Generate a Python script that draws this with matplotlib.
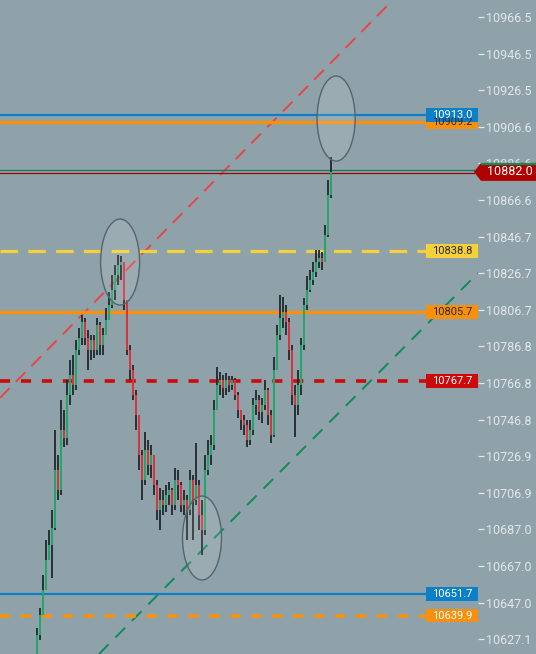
import matplotlib
matplotlib.use("Agg")
import matplotlib.pyplot as plt
from matplotlib.patches import Ellipse, Rectangle, Polygon
import matplotlib.transforms as mtransforms

plt.rcParams['font.family'] = ['Roboto', 'DejaVu Sans']

# ---------------- data ----------------
first_open = 10618.9
closes = [10629.3, 10640.2, 10653.8, 10670.2, 10678.4, 10687.7, 10719.3, 10708.4, 10741.1, 10736.8,
          10760.2, 10771.2, 10765.7, 10784.8, 10791.4, 10800.1, 10791.4, 10784.8, 10790.3, 10784.8,
          10798.4, 10787.5, 10793.0, 10801.2, 10809.4, 10817.5, 10825.7, 10831.2, 10832.8, 10812.1,
          10784.8, 10773.9, 10760.2, 10749.3, 10727.5, 10713.9, 10730.2, 10722.0, 10727.5, 10711.1,
          10697.5, 10702.9, 10700.2, 10705.7, 10708.4, 10700.2, 10713.9, 10711.1, 10700.2, 10702.9,
          10697.5, 10713.9, 10702.9, 10711.1, 10694.8, 10686.6, 10719.3, 10727.5, 10733.0, 10752.1,
          10765.7, 10768.4, 10764.1, 10768.4, 10765.7, 10768.4, 10760.2, 10752.1, 10746.6, 10743.9,
          10735.7, 10741.1, 10754.8, 10757.5, 10751.0, 10754.8, 10763.0, 10749.3, 10738.4, 10773.9,
          10793.0, 10802.3, 10805.5, 10800.1, 10784.8, 10760.2, 10754.8, 10765.7, 10787.5, 10809.4,
          10817.5, 10823.0, 10827.4, 10832.8, 10835.0, 10832.8, 10847.6, 10869.4, 10882.0]
highs = [10633.1, 10644.0, 10662.0, 10681.1, 10686.6, 10697.5, 10741.1, 10727.5, 10757.5, 10752.1,
         10768.4, 10779.3, 10782.1, 10790.3, 10796.8, 10803.9, 10802.3, 10795.7, 10793.0, 10793.0,
         10802.3, 10800.1, 10796.8, 10807.7, 10816.5, 10825.7, 10831.2, 10836.6, 10836.1, 10832.8,
         10812.1, 10787.5, 10776.6, 10763.0, 10749.3, 10730.2, 10740.1, 10735.7, 10733.0, 10727.5,
         10713.9, 10709.5, 10708.4, 10711.1, 10712.8, 10709.5, 10720.4, 10719.3, 10712.8, 10708.4,
         10705.7, 10719.3, 10716.6, 10734.1, 10713.9, 10702.9, 10727.5, 10735.7, 10738.4, 10757.5,
         10775.5, 10772.8, 10771.2, 10772.3, 10770.6, 10770.6, 10769.5, 10761.9, 10752.1, 10749.3,
         10746.6, 10746.6, 10758.6, 10763.0, 10760.2, 10758.6, 10768.4, 10764.1, 10752.1, 10781.0,
         10798.4, 10814.8, 10813.7, 10809.4, 10802.3, 10787.5, 10765.7, 10773.9, 10791.4, 10813.2,
         10825.2, 10828.5, 10832.8, 10839.4, 10839.4, 10838.3, 10853.0, 10877.6, 10890.1]
lows = [10615.6, 10626.6, 10645.7, 10662.0, 10670.2, 10660.4, 10686.6, 10702.9, 10705.7, 10731.9,
        10733.0, 10754.8, 10760.2, 10763.0, 10782.1, 10787.5, 10787.5, 10773.9, 10779.3, 10780.4,
        10782.1, 10782.1, 10782.1, 10793.0, 10801.2, 10807.7, 10812.1, 10820.3, 10823.0, 10806.6,
        10782.1, 10768.4, 10757.5, 10741.1, 10719.3, 10702.9, 10711.1, 10716.6, 10715.0, 10705.7,
        10692.0, 10686.6, 10694.8, 10696.4, 10700.2, 10694.8, 10697.5, 10702.9, 10696.4, 10694.8,
        10681.1, 10694.8, 10681.1, 10700.2, 10686.6, 10672.9, 10683.9, 10716.6, 10722.0, 10730.2,
        10752.1, 10760.2, 10758.6, 10760.2, 10761.9, 10763.0, 10757.5, 10747.7, 10741.1, 10738.4,
        10731.9, 10733.0, 10738.4, 10749.3, 10746.6, 10745.0, 10752.1, 10743.9, 10734.1, 10737.3,
        10773.9, 10790.3, 10796.8, 10793.0, 10779.3, 10754.8, 10737.3, 10749.3, 10760.2, 10784.8,
        10806.6, 10816.5, 10820.3, 10824.6, 10829.6, 10828.5, 10832.8, 10846.5, 10867.8]

tick_labels = ['10966.5', '10946.5', '10926.5', '10906.6', '10886.6', '10866.6', '10846.7', '10826.7',
               '10806.7', '10786.8', '10766.8', '10746.8', '10726.9', '10706.9', '10687.0', '10667.0',
               '10647.0', '10627.1']

# horizontal levels
level_values = [10909.2, 10913.0, 10838.8, 10805.7, 10767.7, 10651.7, 10639.9]
level_colors = ['#f7900c', '#0b7fc7', '#f4d03a', '#f7900c', '#cc0a0a', '#0b7fc7', '#f7900c']
level_dashed = [False, False, True, False, True, False, True]
level_text_colors = ['#2b2b2b', '#ffffff', '#2b2b2b', '#2b2b2b', '#ffffff', '#ffffff', '#ffffff']
current_price = 10882.0

# trend lines (candle index, price)
red_trend = [(0, 10779.1), (98, 10941.6)]
green_trend = [(0, 10584.9), (98, 10746.2)]

# highlight ellipses: (candle index, price, width in candles, height in price)
ellipses = [(27.7, 10832.8, 13.0, 46.9), (55.0, 10682.2, 13.0, 45.8), (99.7, 10911.1, 12.7, 46.4)]

# ---------------- figure ----------------
W, H = 536, 654
bg = '#8fa2aa'
fig = plt.figure(figsize=(W / 100, H / 100), dpi=100, facecolor=bg)
ax = fig.add_axes([0, 0, 478 / W, 1])
ax.set_facecolor(bg)
ax.set_xlim(-37 / 3, (478 - 37) / 3)
ax.set_ylim(10618.9, 10975.8)
for s in ax.spines.values():
    s.set_visible(False)
ax.set_xticks([])
ax.set_yticks([float(t) for t in tick_labels])
ax.set_yticklabels(tick_labels)
ax.yaxis.tick_right()
ax.tick_params(axis='y', direction='out', length=4.3, width=0.9, pad=1.4,
               colors='#e3e7e9', labelsize=9)

blend = mtransforms.blended_transform_factory(ax.transAxes, ax.transData)
line_end = 426 / 478

# horizontal level lines
for v, c, d in zip(level_values, level_colors, level_dashed):
    if d:
        lw = 2.3 if c == '#f4d03a' else 2.6
        dash = (5.5, 3.2) if c == '#f4d03a' else (2.8, 3.0)
        ax.plot([0, line_end], [v, v], transform=blend, color=c, lw=lw,
                dashes=dash, zorder=3)
    else:
        lw = 1.6 if c == '#0b7fc7' else 2.4
        ax.plot([0, line_end], [v, v], transform=blend, color=c, lw=lw, zorder=3)

# current price lines
ax.plot([0, 474 / 478], [current_price + 0.9, current_price + 0.9], transform=blend,
        color='#0f7a55', lw=0.9, zorder=3)
ax.plot([0, 474 / 478], [current_price - 0.4, current_price - 0.4], transform=blend,
        color='#a00000', lw=0.9, zorder=3)

# trend lines
ax.axline(red_trend[0], red_trend[1], color='#e84545', lw=1.4, dashes=(7, 4.5), zorder=2)
ax.axline(green_trend[0], green_trend[1], color='#0e8a5c', lw=1.4, dashes=(7, 5), zorder=2)

# candles
opens = [first_open] + closes[:-1]
xs = list(range(len(closes)))
ax.vlines(xs, lows, highs, color='#232c31', lw=1.35, zorder=4)
for x, o, c in zip(xs, opens, closes):
    col = '#25a56c' if c >= o else '#d8343e'
    lo, hi = min(o, c), max(o, c)
    if hi - lo < 0.6:
        hi = lo + 0.6
    ax.add_patch(Rectangle((x - 0.36, lo), 0.72, hi - lo, facecolor=col,
                           edgecolor='none', zorder=5))

# ellipses
for cx, cy, w, h in ellipses:
    ax.add_patch(Ellipse((cx, cy), w, h, facecolor=(1, 1, 1, 0.1),
                         edgecolor='#56646b', lw=1.0, zorder=6))

# level labels
box_h = 7.6
for v, c, tc in zip(level_values, level_colors, level_text_colors):
    ax.add_patch(Rectangle((line_end, v - box_h / 2), 1 - line_end, box_h, transform=blend,
                           facecolor=c, edgecolor='none', zorder=8, clip_on=False))
    ax.text((line_end + 1) / 2, v, f'{v:.1f}', transform=blend, ha='center', va='center',
            color=tc, fontsize=8, zorder=9, clip_on=False)

# current price tag
x0 = 474 / 478
x1 = 481 / 478
x2 = W / 478
hh = 4.9
tag = Polygon([(x0, current_price), (x1, current_price + hh), (x2, current_price + hh),
               (x2, current_price - hh), (x1, current_price - hh)], closed=True,
              transform=blend, facecolor='#b00000', edgecolor='none', zorder=10, clip_on=False)
ax.add_patch(tag)
ax.plot([x1, x2], [current_price + hh - 0.4, current_price + hh - 0.4], transform=blend,
        color='#108a5a', lw=1.6, zorder=11, clip_on=False, solid_capstyle='butt')
ax.text(509.5 / 478, current_price, f'{current_price:.1f}', transform=blend, ha='center',
        va='center', color='white', fontsize=9, zorder=12, clip_on=False)

fig.savefig('out.png', dpi=100, facecolor=bg)
